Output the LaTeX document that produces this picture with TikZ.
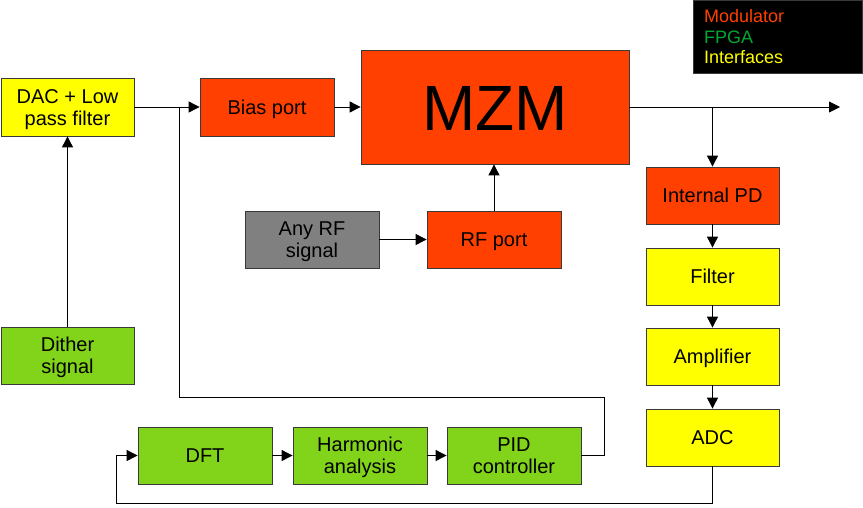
\documentclass[tikz,border=0pt]{standalone}
\usepackage{fontspec}
\setmainfont{Liberation Sans}
\usetikzlibrary{arrows.meta}
\definecolor{modc}{HTML}{FF4000}
\definecolor{fpgac}{HTML}{81D41A}
\definecolor{fpgat}{HTML}{00A933}
\definecolor{ifc}{HTML}{FFFF00}
\definecolor{rfc}{HTML}{808080}
\definecolor{edgec}{HTML}{3A3A3A}
\tikzset{
  blk/.style={rectangle, draw=edgec, line width=0.8pt, minimum width=134pt, minimum height=57pt, inner sep=2pt, align=center, font=\fontsize{20}{22}\selectfont, text height=14.6pt, text depth=0pt},
  twoline/.style={text height=36.6pt, text depth=0pt},
  modblk/.style={blk, fill=modc},
  fpgablk/.style={blk, fill=fpgac},
  ifblk/.style={blk, fill=ifc},
  rfblk/.style={blk, fill=rfc},
  conn/.style={line width=0.9pt, draw=black},
  arr/.style={conn, -{Triangle[length=11pt,width=11pt]}},
}
\begin{document}
\begin{tikzpicture}[x=1pt,y=-1pt]
\useasboundingbox (0,0) rectangle (863,507);
% legend
\node[rectangle, fill=black, draw=edgec, minimum width=169pt, minimum height=73pt, inner sep=0pt] (legend) at (777.5,36.5) {};
\node[anchor=west, align=left, inner sep=0pt, font=\fontsize{18}{20.5}\selectfont] (legtext) at (704,37) {\textcolor{modc}{Modulator}\\\textcolor{fpgat}{FPGA}\\\textcolor{ifc}{Interfaces}};
% blocks
\node[ifblk, twoline, minimum width=133pt, minimum height=58pt] (dac) at (67.5,107) {DAC + Low\\pass filter};
\node[modblk, minimum height=58pt] (bias) at (267,107) {Bias port};
\node[modblk, minimum width=268pt, minimum height=114pt, font=\fontsize{64}{70}\selectfont, text height=46pt] (mzm) at (495,107) {MZM};
\node[modblk, minimum width=133pt] (pd) at (712.5,195.5) {Internal PD};
\node[ifblk, minimum width=133pt] (filter) at (712.5,276.5) {Filter};
\node[ifblk, minimum width=133pt] (amp) at (712.5,356.5) {Amplifier};
\node[ifblk, minimum width=133pt] (adc) at (712.5,437.5) {ADC};
\node[rfblk, twoline] (anyrf) at (312,239.5) {Any RF\\signal};
\node[modblk] (rf) at (494,239.5) {RF port};
\node[fpgablk, twoline, minimum width=133pt] (dither) at (67.5,355.5) {Dither\\signal};
\node[fpgablk] (dft) at (205,455.5) {DFT};
\node[fpgablk, twoline] (harm) at (360,455.5) {Harmonic\\analysis};
\node[fpgablk, twoline] (pid) at (514,455.5) {PID\\controller};
% helper coordinates
\coordinate (out) at (840,107);
\coordinate (fbr) at (604,397);
\coordinate (fbl) at (179,397);
\coordinate (fbj) at (179,107);
\coordinate (lb) at (116,503);
% connectors
\draw[arr] (dac.east) -- (bias.west);
\draw[conn] (pid.east) -| (fbr) -- (fbl) -- (fbj);
\draw[arr] (bias.east) -- (mzm.west);
\draw[arr] (mzm.east) -- (out);
\draw[arr] (pd.north |- mzm.east) -- (pd.north);
\draw[arr] (pd.south) -- (filter.north);
\draw[arr] (filter.south) -- (amp.north);
\draw[arr] (amp.south) -- (adc.north);
\draw[arr] (adc.south) |- (lb) |- (dft.west);
\draw[arr] (dft.east) -- (harm.west);
\draw[arr] (harm.east) -- (pid.west);
\draw[arr] (anyrf.east) -- (rf.west);
\draw[arr] (rf.north) -- (rf.north |- mzm.south);
\draw[arr] (dither.north) -- (dac.south);
\end{tikzpicture}
\end{document}
